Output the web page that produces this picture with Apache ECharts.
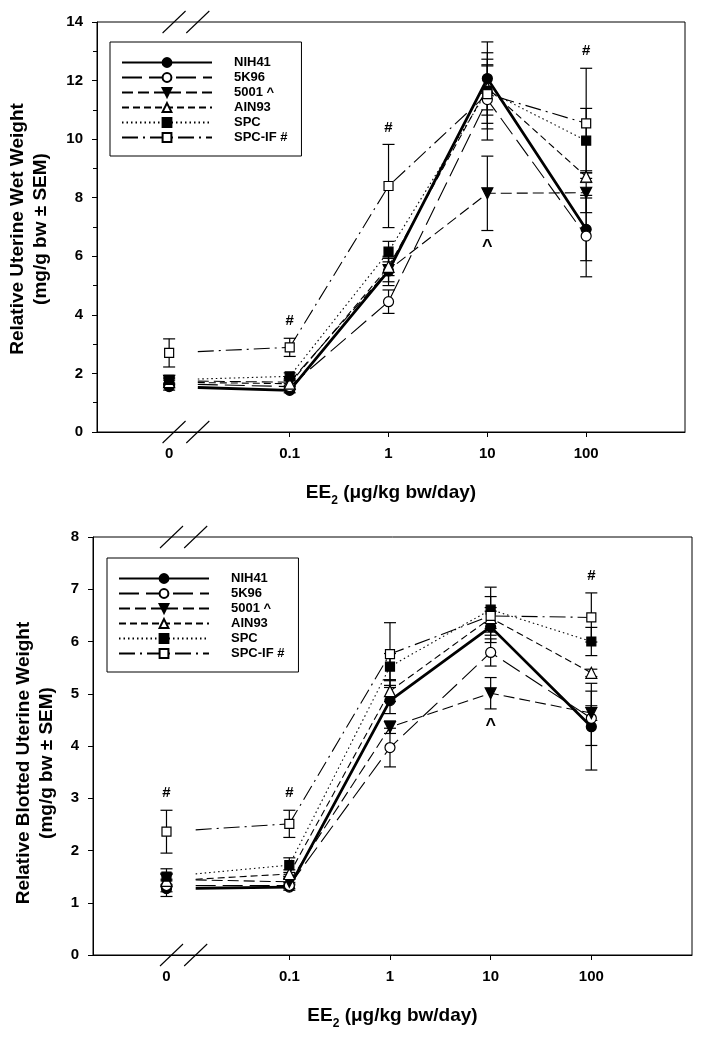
<!DOCTYPE html>
<html><head><meta charset="utf-8">
<script src="https://cdn.jsdelivr.net/npm/echarts@6/dist/echarts.min.js"></script>
<style>html,body{margin:0;padding:0;background:#fff}#c{width:702px;height:1039px}</style>
</head><body><div id="c"></div>
<script>
// ---------- data ----------
const doses = [0, 0.1, 1, 10, 100];
const doseLabels = ['0', '0.1', '1', '10', '100'];
const diets = ['NIH41', '5K96', '5001 ^', 'AIN93', 'SPC', 'SPC-IF #'];

// Top panel: relative uterine wet weight (mean / SEM) at each dose
const wetNIH41    = [1.55, 1.42, 5.50, 12.07, 6.92];
const wetNIH41Sem = [0.12, 0.08, 0.50, 1.25, 1.07];
const wet5K96     = [1.65, 1.55, 4.45, 11.35, 6.69];
const wet5K96Sem  = [0.12, 0.10, 0.40, 1.38, 1.39];
const wet5001     = [1.75, 1.70, 5.53, 8.15, 8.17];
const wet5001Sem  = [0.12, 0.12, 0.40, 1.27, 0.68];
const wetAIN93    = [1.70, 1.65, 5.64, 11.75, 8.72];
const wetAIN93Sem = [0.12, 0.10, 0.30, 0.75, 0.20];
const wetSPC      = [1.78, 1.90, 6.16, 11.65, 9.95];
const wetSPCSem   = [0.15, 0.12, 0.35, 1.30, 1.10];
const wetSPCIF    = [2.70, 2.89, 8.40, 11.54, 10.54];
const wetSPCIFSem = [0.48, 0.31, 1.42, 1.00, 1.88];

// Bottom panel: relative blotted uterine weight (mean / SEM)
const blotNIH41    = [1.27, 1.30, 4.87, 6.28, 4.37];
const blotNIH41Sem = [0.15, 0.06, 0.25, 0.30, 0.83];
const blot5K96     = [1.33, 1.33, 3.97, 5.79, 4.53];
const blot5K96Sem  = [0.12, 0.06, 0.37, 0.26, 0.52];
const blot5001     = [1.45, 1.40, 4.36, 5.01, 4.63];
const blot5001Sem  = [0.12, 0.06, 0.12, 0.30, 0.14];
const blotAIN93    = [1.42, 1.55, 5.05, 6.45, 5.40];
const blotAIN93Sem = [0.12, 0.08, 0.20, 0.20, 0.07];
const blotSPC      = [1.50, 1.72, 5.52, 6.61, 6.00];
const blotSPCSem   = [0.15, 0.14, 0.25, 0.43, 0.27];
const blotSPCIF    = [2.36, 2.51, 5.76, 6.49, 6.46];
const blotSPCIFSem = [0.41, 0.26, 0.60, 0.37, 0.47];

// significance marks: [dose label, diet, symbol]
const wetMarks  = [['0.1', 'SPC-IF #', '#'], ['1', 'SPC-IF #', '#'], ['100', 'SPC-IF #', '#'], ['10', '5001 ^', '^']];
const blotMarks = [['0', 'SPC-IF #', '#'], ['0.1', 'SPC-IF #', '#'], ['100', 'SPC-IF #', '#'], ['10', '5001 ^', '^']];

const wetYTicks = [0, 14, 2];
const blotYTicks = [0, 8, 1];

// ---------- styling / layout ----------
const FONT = '"Liberation Sans", Arial, Helvetica, sans-serif';
const ZERO_POS = -2.22;   // axis position of the 0 dose (broken axis)
const BREAK_A = -2.17, BREAK_B = -1.93;
const X_MIN = -2.95, X_MAX = 3;

const dietStyle = {
  'NIH41':    {symbol: 'circle',   rotate: 0,   fill: '#000', dash: 'solid',        width: 2.8, size: 10},
  '5K96':     {symbol: 'circle',   rotate: 0,   fill: '#fff', dash: [20, 7],        width: 1.1, size: 10},
  '5001 ^':   {symbol: 'triangle', rotate: 180, fill: '#000', dash: [11, 5],        width: 1.1, size: 11},
  'AIN93':    {symbol: 'triangle', rotate: 0,   fill: '#fff', dash: [7, 4],         width: 1.1, size: 11},
  'SPC':      {symbol: 'rect',     rotate: 0,   fill: '#000', dash: [1.5, 3],       width: 1.1, size: 9},
  'SPC-IF #': {symbol: 'rect',     rotate: 0,   fill: '#fff', dash: [16, 5, 2, 5],  width: 1.1, size: 9}
};

function xOf(d) { return d === 0 ? ZERO_POS : Math.log10(d); }

function panelSeries(gi, means, sems, marks, yMax) {
  const out = [];
  diets.forEach((name, k) => {
    const st = dietStyle[name];
    const m = means[k];
    const common = {
      xAxisIndex: gi, yAxisIndex: gi, z: 3,
      symbol: st.symbol, symbolSize: st.size, symbolRotate: st.rotate,
      itemStyle: {color: st.fill, borderColor: '#000', borderWidth: 1.2},
      lineStyle: {color: '#000', width: st.width, type: st.dash},
      emphasis: {disabled: true}
    };
    out.push(Object.assign({type: 'line', name: name,
      data: doses.slice(1).map((d, i) => [xOf(d), m[i + 1]])}, common));
    out.push(Object.assign({type: 'line', name: name, data: [[xOf(doses[0]), m[0]]]}, common));
    // segment from dose 0 to 0.1, drawn only right of the axis break
    out.push({
      type: 'custom', name: name + ' seg', xAxisIndex: gi, yAxisIndex: gi, z: 2,
      encode: {x: [0, 2], y: [1, 3]},
      data: [[xOf(doses[0]), m[0], xOf(doses[1]), m[1]]],
      renderItem: function (params, api) {
        const p0 = api.coord([api.value(0), api.value(1)]);
        const p1 = api.coord([api.value(2), api.value(3)]);
        const bx = api.coord([BREAK_B, 0])[0];
        const t = (bx - p0[0]) / (p1[0] - p0[0]);
        const by = p0[1] + t * (p1[1] - p0[1]);
        return {type: 'line', shape: {x1: bx, y1: by, x2: p1[0], y2: p1[1]},
          style: {stroke: '#000', lineWidth: st.width, lineDash: st.dash === 'solid' ? null : st.dash}};
      }
    });
  });
  // error bars
  const eb = [];
  diets.forEach((name, k) => {
    doses.forEach((d, i) => eb.push([xOf(d), means[k][i], sems[k][i]]));
  });
  out.push({
    type: 'custom', name: 'err' + gi, xAxisIndex: gi, yAxisIndex: gi, z: 2,
    encode: {x: 0, y: 1},
    data: eb,
    renderItem: function (params, api) {
      const x = api.value(0), m = api.value(1), s = api.value(2);
      const top = api.coord([x, m + s]);
      const bot = api.coord([x, m - s]);
      const st = {stroke: '#000', lineWidth: 1.2};
      return {type: 'group', children: [
        {type: 'line', shape: {x1: top[0], y1: top[1], x2: bot[0], y2: bot[1]}, style: st},
        {type: 'line', shape: {x1: top[0] - 6, y1: top[1], x2: top[0] + 6, y2: top[1]}, style: st},
        {type: 'line', shape: {x1: bot[0] - 6, y1: bot[1], x2: bot[0] + 6, y2: bot[1]}, style: st}
      ]};
    }
  });
  // significance marks
  const md = marks.map(mk => {
    const i = doseLabels.indexOf(mk[0]);
    const k = diets.indexOf(mk[1]);
    const above = mk[2] === '#';
    return [xOf(doses[i]), above ? means[k][i] + sems[k][i] : means[k][i] - sems[k][i]];
  });
  out.push({
    type: 'custom', name: 'marks' + gi, xAxisIndex: gi, yAxisIndex: gi, z: 4,
    encode: {x: 0, y: 1},
    data: md,
    renderItem: function (params, api) {
      const mk = marks[params.dataIndex];
      const p = api.coord([api.value(0), api.value(1)]);
      const above = mk[2] === '#';
      return {type: 'text', x: p[0], y: above ? p[1] - 17 : p[1] + 17,
        style: {text: mk[2], fontFamily: FONT, fontWeight: 'bold', fontSize: above ? 15 : 18,
          fill: '#000', align: 'center', verticalAlign: 'middle'}};
    }
  });
  // axis-break slashes
  out.push({
    type: 'custom', name: 'brk' + gi, xAxisIndex: gi, yAxisIndex: gi, z: 5, clip: false,
    encode: {x: 0, y: 1},
    data: [[BREAK_A, 0], [BREAK_B, 0], [BREAK_A, yMax], [BREAK_B, yMax]],
    renderItem: function (params, api) {
      const p = api.coord([api.value(0), api.value(1)]);
      return {type: 'line', shape: {x1: p[0] - 11.5, y1: p[1] + 11, x2: p[0] + 11.5, y2: p[1] - 11},
        style: {stroke: '#000', lineWidth: 1.1}};
    }
  });
  return out;
}

const wetMeans = [wetNIH41, wet5K96, wet5001, wetAIN93, wetSPC, wetSPCIF];
const wetSems = [wetNIH41Sem, wet5K96Sem, wet5001Sem, wetAIN93Sem, wetSPCSem, wetSPCIFSem];
const blotMeans = [blotNIH41, blot5K96, blot5001, blotAIN93, blotSPC, blotSPCIF];
const blotSems = [blotNIH41Sem, blot5K96Sem, blot5001Sem, blotAIN93Sem, blotSPCSem, blotSPCIFSem];

function xAxisCfg(gi) {
  return {
    type: 'value', gridIndex: gi, min: X_MIN, max: X_MAX,
    splitLine: {show: false},
    axisLine: {onZero: false, lineStyle: {color: '#000', width: 1}},
    axisTick: {show: true, customValues: doses.slice(1).map(xOf), length: 5, lineStyle: {color: '#000'}},
    axisLabel: {customValues: doses.map(xOf), margin: 14, color: '#000', fontFamily: FONT, fontWeight: 'bold', fontSize: 15,
      formatter: function (v) {
        let best = 0;
        doses.forEach((d, i) => { if (Math.abs(xOf(d) - v) < Math.abs(xOf(doses[best]) - v)) best = i; });
        return doseLabels[best];
      }},
    name: '{a|EE}{s|2}{a| (μg/kg bw/day)}', nameLocation: 'middle', nameGap: 47,
    nameTextStyle: {rich: {
      a: {fontFamily: FONT, fontWeight: 'bold', fontSize: 19, color: '#000', lineHeight: 28, verticalAlign: 'middle'},
      s: {fontFamily: FONT, fontWeight: 'bold', fontSize: 12, color: '#000', lineHeight: 12, verticalAlign: 'bottom'}
    }}
  };
}
function yAxisCfg(gi, ticks, minor) {
  return {
    type: 'value', gridIndex: gi, min: ticks[0], max: ticks[1], interval: ticks[2],
    splitLine: {show: false},
    axisLine: {show: true, onZero: false, lineStyle: {color: '#000', width: 1}},
    axisTick: {show: true, length: 5, lineStyle: {color: '#000'}},
    minorTick: {show: minor, splitNumber: 2, length: 4, lineStyle: {color: '#000'}},
    axisLabel: {margin: 14, color: '#000', fontFamily: FONT, fontWeight: 'bold', fontSize: 15}
  };
}
function legendCfg(top, left) {
  return {
    top: top, left: left, orient: 'vertical', selectedMode: false,
    padding: [13, 14, 11, 11], itemGap: 0, itemWidth: 90, itemHeight: 11,
    borderColor: '#000', borderWidth: 1, backgroundColor: '#fff',
    textStyle: {fontFamily: FONT, fontWeight: 'bold', fontSize: 13, color: '#000', lineHeight: 15, padding: [0, 0, 0, 17]},
    data: diets
  };
}

const option = {
  animation: false,
  backgroundColor: '#fff',
  grid: [
    {left: 97, right: 17, top: 22, height: 410, show: true, borderColor: '#000', borderWidth: 1},
    {left: 93, right: 10, top: 537, height: 418, show: true, borderColor: '#000', borderWidth: 1}
  ],
  xAxis: [xAxisCfg(0), xAxisCfg(1)],
  yAxis: [yAxisCfg(0, wetYTicks, true), yAxisCfg(1, blotYTicks, false)],
  legend: [legendCfg(42, 110), legendCfg(558, 107)],
  graphic: [
    {type: 'text', x: 29, y: 229, rotation: Math.PI / 2,
      style: {text: 'Relative Uterine Wet Weight\n(mg/g bw ± SEM)', fontFamily: FONT, fontWeight: 'bold', fontSize: 19,
        lineHeight: 23, fill: '#000', align: 'center', verticalAlign: 'middle'}},
    {type: 'text', x: 35, y: 763, rotation: Math.PI / 2,
      style: {text: 'Relative Blotted Uterine Weight\n(mg/g bw ± SEM)', fontFamily: FONT, fontWeight: 'bold', fontSize: 19,
        lineHeight: 23, fill: '#000', align: 'center', verticalAlign: 'middle'}}
  ],
  series: panelSeries(0, wetMeans, wetSems, wetMarks, wetYTicks[1])
    .concat(panelSeries(1, blotMeans, blotSems, blotMarks, blotYTicks[1]))
};

const chart = echarts.init(document.getElementById('c'), null, {renderer: 'canvas'});
chart.setOption(option);
</script>
</body></html>
